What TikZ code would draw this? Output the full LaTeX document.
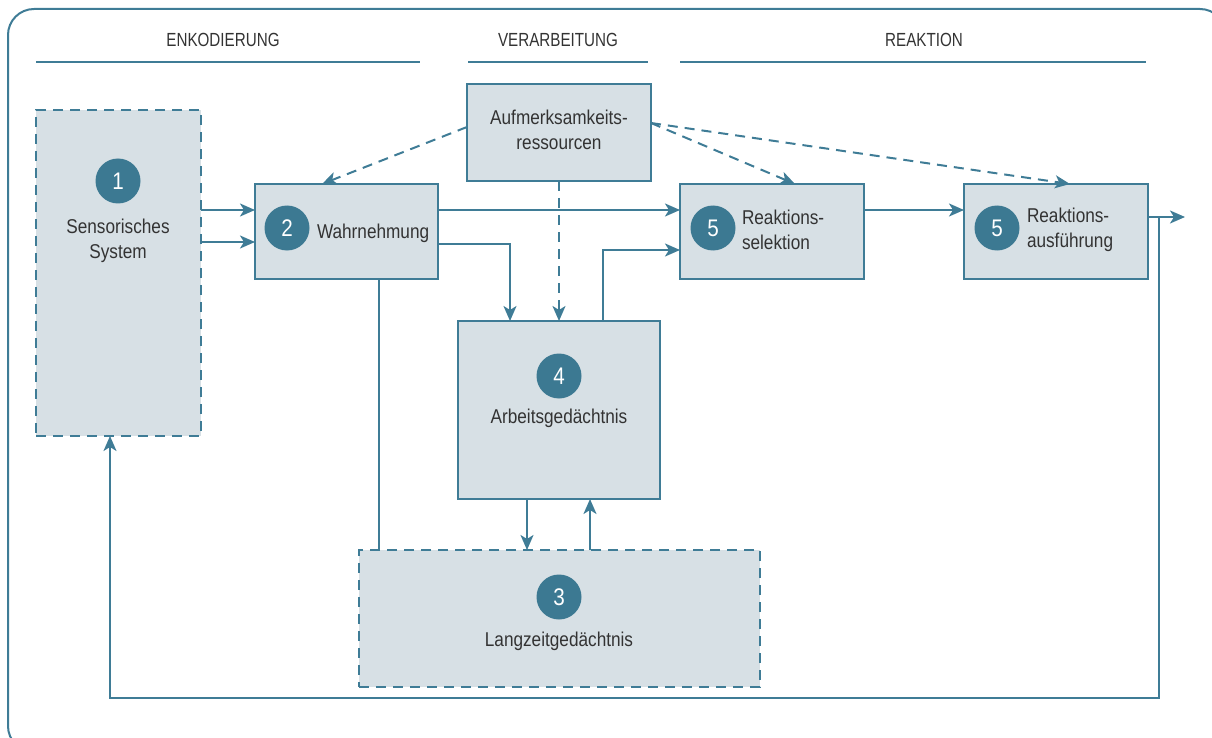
\documentclass[tikz,border=0pt]{standalone}
\usepackage{fontspec}
\setmainfont{Liberation Sans}[FakeStretch=0.86]
\newfontfamily\headfont{Liberation Sans}[FakeStretch=0.80]
\usetikzlibrary{arrows.meta}

\definecolor{teal}{HTML}{3F7C96}
\definecolor{boxfill}{HTML}{D7E0E5}
\definecolor{disc}{HTML}{3C7992}
\definecolor{ink}{HTML}{333333}

\tikzset{
  every node/.style={inner sep=0pt, outer sep=0pt, text=ink},
  stage/.style={draw=teal, line width=2pt, fill=boxfill},
  store/.style={stage, dash pattern=on 10pt off 7pt},
  num/.style={circle, fill=disc, minimum size=45pt, text=white,
    font=\fontsize{24}{28}\selectfont},
  label/.style={font=\fontsize{20}{25}\selectfont},
  head/.style={font=\headfont\fontsize{19}{22}\selectfont},
  rule/.style={draw=teal, line width=2pt},
  arr/.style={draw=teal, line width=2pt,
    -{Stealth[length=15pt, width=13pt, inset=4pt]}},
  darr/.style={arr, dash pattern=on 10pt off 7pt},
}

\begin{document}
\begin{tikzpicture}[x=1pt, y=-1pt]
  \useasboundingbox (0,0) rectangle (1212,738);
  \clip (0,0) rectangle (1212,738);

  % outer frame
  \draw[teal, line width=2pt, rounded corners=26pt] (8,9) rectangle (1226,752);

  % column headers
  \node[head] (hEnk) at (223,40) {ENKODIERUNG};
  \node[head] (hVer) at (558,40) {VERARBEITUNG};
  \node[head] (hRea) at (924,40) {REAKTION};
  \draw[rule] (36,62) -- (420,62);
  \draw[rule] (468,62) -- (648,62);
  \draw[rule] (680,62) -- (1146,62);

  % stages
  \node[store, minimum width=165pt, minimum height=326pt] (sens) at (118.5,273) {};
  \node[stage, minimum width=183pt, minimum height=95pt] (wahr) at (346.5,231.5) {};
  \node[stage, minimum width=184pt, minimum height=97pt] (aufm) at (559,132.5) {};
  \node[stage, minimum width=184pt, minimum height=95pt] (rsel) at (772,231.5) {};
  \node[stage, minimum width=184pt, minimum height=95pt] (raus) at (1056,231.5) {};
  \node[stage, minimum width=202pt, minimum height=178pt] (arb) at (559,410) {};
  \node[store, minimum width=401pt, minimum height=137pt] (lang) at (559.5,618.5) {};

  % numbers
  \node[num] (n1) at (118,181) {1};
  \node[num] (n2) at (287,228) {2};
  \node[num] (n5a) at (713,228) {5};
  \node[num] (n5b) at (997,228) {5};
  \node[num] (n4) at (559,376) {4};
  \node[num] (n3) at (559,597) {3};

  % labels
  \node[label, align=center] (t1) at (118,241) {Sensorisches\\System};
  \node[label, anchor=west] (t2) at (317,233) {Wahrnehmung};
  \node[label, align=center] (ta) at (559,130) {Aufmerksamkeits-\\ressourcen};
  \node[label, align=left, anchor=west] (t5a) at (742,230) {Reaktions-\\selektion};
  \node[label, align=left, anchor=west] (t5b) at (1027,230) {Reaktions-\\ausführung};
  \node[label] (t4) at (559,418) {Arbeitsgedächtnis};
  \node[label] (t3) at (559,641) {Langzeitgedächtnis};

  % solid connectors
  \draw[arr] (sens.east |- 0,210) -- (wahr.west |- 0,210);
  \draw[arr] (sens.east |- 0,242) -- (wahr.west |- 0,242);
  \draw[arr] (wahr.east |- 0,210) -- (rsel.west |- 0,210);
  \draw[arr] (wahr.east |- 0,244) -| (arb.north -| 510,0);
  \draw[arr] (arb.north -| 603,0) |- (rsel.west |- 0,250);
  \draw[arr] (rsel.east |- 0,210) -- (raus.west |- 0,210);
  \draw[rule] (wahr.south -| 379,0) -- (lang.north -| 379,0);
  \draw[arr] (arb.south -| 527,0) -- (lang.north -| 527,0);
  \draw[arr] (lang.north -| 590,0) -- (arb.south -| 590,0);

  % attention resources
  \draw[darr] (aufm.south) -- (arb.north -| aufm.south);
  \draw[darr] (aufm.west |- 0,127) -- (wahr.north -| 322,0);
  \draw[darr] (aufm.east |- 0,123) -- (rsel.north -| 795,0);
  \draw[darr] (aufm.east |- 0,123) -- (raus.north -| 1070,0);

  % output and feedback loop
  \coordinate (out) at (1185,217);
  \coordinate (split) at (1159,217);
  \coordinate (loopL) at (110,698);
  \draw[arr] (raus.east |- out) -- (out);
  \draw[arr] (split) |- (loopL) -- (sens.south -| loopL);
\end{tikzpicture}
\end{document}
